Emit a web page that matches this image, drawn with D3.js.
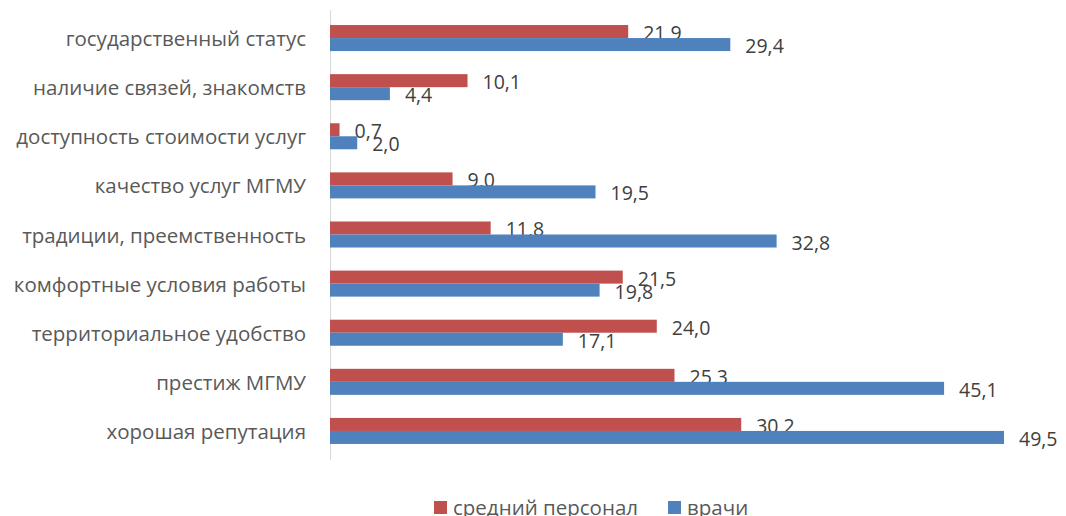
<!DOCTYPE html>
<html>
<head>
<meta charset="utf-8">
<script src="https://cdn.jsdelivr.net/npm/d3@7"></script>
<style>
  body { margin: 0; background: #fff; }
  svg { display: block; }
</style>
</head>
<body>
<svg id="chart" width="1066" height="516"></svg>
<script>
const categories = [
  "государственный статус",
  "наличие связей, знакомств",
  "доступность стоимости услуг",
  "качество услуг МГМУ",
  "традиции, преемственность",
  "комфортные условия работы",
  "территориальное удобство",
  "престиж МГМУ",
  "хорошая репутация"
];
const nurses = [21.9, 10.1, 0.7, 9.0, 11.8, 21.5, 24.0, 25.3, 30.2];
const doctors = [29.4, 4.4, 2.0, 19.5, 32.8, 19.8, 17.1, 45.1, 49.5];
const seriesNames = ["средний персонал", "врачи"];
const colors = ["#C0504D", "#4F81BD"];

const svg = d3.select("#chart");
const font = "'Open Sans', 'Noto Sans', sans-serif";
const textColor = "#595959";

const plotLeft = 330, plotTop = 13.5, plotBottom = 455.5;
const x = d3.scaleLinear().domain([0, 49.5]).range([plotLeft, 1004]);
const y = d3.scaleBand().domain(categories).range([plotTop, plotBottom]).paddingInner(0.47).paddingOuter(0.235);
const sub = d3.scaleBand().domain([0, 1]).range([0, y.bandwidth()]);

const fmt = v => d3.format(".1f")(v).replace(".", ",");

// category axis line
svg.append("line")
  .attr("x1", plotLeft + 0.5).attr("x2", plotLeft + 0.5)
  .attr("y1", 10).attr("y2", 460)
  .attr("stroke", "#D9D9D9").attr("stroke-width", 1);

// category labels
svg.append("g").selectAll("text").data(categories).join("text")
  .attr("x", 306)
  .attr("y", d => y(d) + y.bandwidth() / 2)
  .attr("text-anchor", "end")
  .attr("dominant-baseline", "central")
  .attr("font-family", font)
  .attr("font-size", 20.5)
  .attr("fill", textColor)
  .text(d => d);

const series = [nurses, doctors];
series.forEach((vals, si) => {
  const g = svg.append("g");
  g.selectAll("rect").data(vals).join("rect")
    .attr("x", x(0))
    .attr("y", (d, i) => y(categories[i]) + sub(si))
    .attr("width", d => x(d) - x(0))
    .attr("height", sub.bandwidth())
    .attr("fill", colors[si]);
  g.selectAll("text").data(vals).join("text")
    .attr("x", d => x(d) + 15)
    .attr("y", (d, i) => y(categories[i]) + sub(si) + sub.bandwidth() / 2 + 1)
    .attr("dominant-baseline", "central")
    .attr("font-family", font)
    .attr("font-size", 19.5)
    .attr("fill", "#404040")
    .text(d => fmt(d));
});

// legend
const legend = svg.append("g");
const legendItems = [{ x: 434, name: seriesNames[0], c: colors[0] }, { x: 668, name: seriesNames[1], c: colors[1] }];
legendItems.forEach(it => {
  legend.append("rect").attr("x", it.x).attr("y", 501).attr("width", 13).attr("height", 13).attr("fill", it.c);
  legend.append("text").attr("x", it.x + 19).attr("y", 507)
    .attr("dominant-baseline", "central")
    .attr("font-family", font).attr("font-size", 20.5).attr("fill", textColor)
    .text(it.name);
});
</script>
</body>
</html>
